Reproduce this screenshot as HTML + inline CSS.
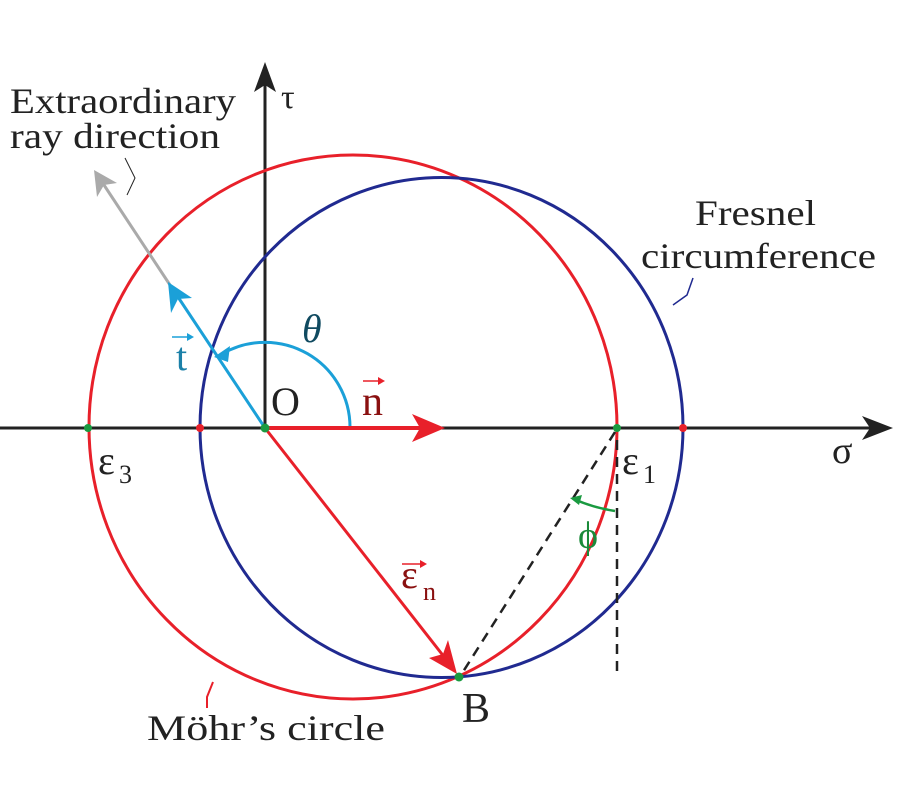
<!DOCTYPE html>
<html><head><style>html,body{margin:0;padding:0;background:#fff}svg{display:block}</style></head><body>
<svg width="900" height="800" viewBox="0 0 900 800" xmlns="http://www.w3.org/2000/svg" font-family="Liberation Serif, serif">
<line x1="0" y1="428" x2="870" y2="428" stroke="#222" stroke-width="3"/>
<polygon points="893,428 862,416 870,428 862,440" fill="#222"/>
<line x1="265" y1="428" x2="265" y2="80" stroke="#222" stroke-width="3"/>
<polygon points="265,62 254,92 265,85 276,92" fill="#222"/>
<ellipse cx="353" cy="427" rx="264" ry="272" fill="none" stroke="#e8202a" stroke-width="3"/>
<ellipse cx="441.5" cy="427.5" rx="241.5" ry="250" fill="none" stroke="#202a90" stroke-width="3"/>
<line x1="170" y1="285" x2="102" y2="182" stroke="#aaa" stroke-width="3"/>
<polygon points="94,170 97,197 104,185 117,183" fill="#aaa"/>
<line x1="265" y1="428" x2="176" y2="294" stroke="#1ba0d8" stroke-width="3"/>
<polygon points="168,282 171,313 178,299 192,298" fill="#1ba0d8"/>
<path d="M350,428 A85,85 0 0 0 222,354" fill="none" stroke="#1ba0d8" stroke-width="3"/>
<polygon points="214,357 230,346 228,362" fill="#1ba0d8"/>
<line x1="265" y1="428" x2="420" y2="428" stroke="#e8202a" stroke-width="4"/>
<polygon points="445,428 412,414 420,428 412,442" fill="#e8202a"/>
<line x1="265" y1="428" x2="445" y2="658" stroke="#e8202a" stroke-width="3"/>
<polygon points="457,674 429,658 443,654 448,640" fill="#e8202a"/>
<line x1="615" y1="432" x2="461" y2="675" stroke="#222" stroke-width="2.5" stroke-dasharray="10,7"/>
<line x1="617" y1="440" x2="617" y2="675" stroke="#222" stroke-width="2.5" stroke-dasharray="10,7"/>
<path d="M615,511 Q595,508 576,500" fill="none" stroke="#1a9a40" stroke-width="2.5"/>
<polygon points="570,498 582,495 579,505" fill="#1a9a40"/>
<circle cx="88" cy="428" r="4" fill="#1a9a40"/>
<circle cx="200" cy="428" r="4" fill="#e8202a"/>
<circle cx="265" cy="428" r="4.5" fill="#1a9a40"/>
<circle cx="617" cy="428" r="4" fill="#1a9a40"/>
<circle cx="683" cy="428" r="4" fill="#e8202a"/>
<circle cx="459" cy="677" r="4.5" fill="#1a9a40"/>
<path d="M125,158 L135,178 L127,195" fill="none" stroke="#222" stroke-width="1"/>
<path d="M693,278 L687,295 L673,305" fill="none" stroke="#202a90" stroke-width="1.5"/>
<path d="M213,682 L207,697 L207,708" fill="none" stroke="#e8202a" stroke-width="2"/>
<g fill="#222" font-size="36">
<text x="10" y="113" textLength="226" lengthAdjust="spacingAndGlyphs">Extraordinary</text>
<text x="10" y="148" textLength="210" lengthAdjust="spacingAndGlyphs">ray direction</text>
<text x="695" y="225" textLength="121" lengthAdjust="spacingAndGlyphs">Fresnel</text>
<text x="641" y="268" textLength="235" lengthAdjust="spacingAndGlyphs">circumference</text>
<text x="147" y="740" textLength="238" lengthAdjust="spacingAndGlyphs">Möhr’s circle</text>
<text x="281" y="108" font-size="34">τ</text>
<text x="271" y="415" font-size="40">O</text>
<text x="832" y="463" font-size="38">σ</text>
<text x="462" y="722" font-size="42">B</text>
<text x="98" y="474" font-size="40">ε</text><text x="119" y="483" font-size="26">3</text>
<text x="622" y="474" font-size="40">ε</text><text x="643" y="483" font-size="26">1</text>
</g>
<text x="302" y="342" font-size="40" font-style="italic" fill="#104a60">θ</text>
<text x="176" y="370" font-size="40" fill="#1b80a8">t</text>
<line x1="172" y1="337" x2="190" y2="337" stroke="#1ba0d8" stroke-width="1.5"/><polygon points="194,337 187,333 187,341" fill="#1ba0d8"/>
<text x="362" y="415" font-size="42" fill="#8a1010">n</text>
<line x1="363" y1="381" x2="381" y2="381" stroke="#e8202a" stroke-width="1.5"/><polygon points="385,381 378,377 378,385" fill="#e8202a"/>
<text x="401" y="588" font-size="40" fill="#8a1010">ε</text><text x="423" y="600" font-size="26" fill="#8a1010">n</text>
<line x1="402" y1="564" x2="423" y2="564" stroke="#e8202a" stroke-width="1.5"/><polygon points="427,564 420,560 420,568" fill="#e8202a"/>
<text x="578" y="548" font-size="38" fill="#1a8a3a">ϕ</text>
</svg>
</body></html>
